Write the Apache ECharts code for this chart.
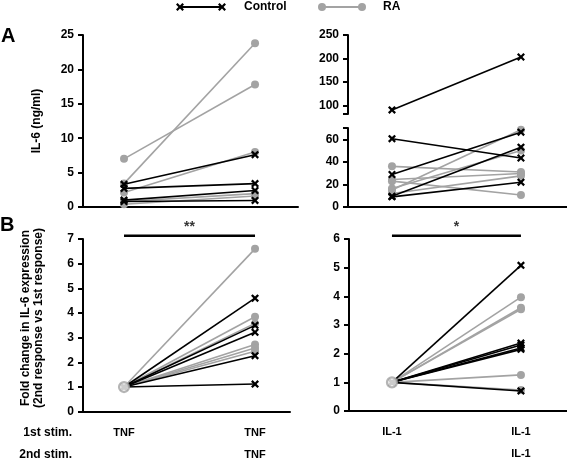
<!DOCTYPE html>
<html>
<head>
<meta charset="utf-8">
<script src="https://cdn.jsdelivr.net/npm/echarts@6/dist/echarts.min.js"></script>
<style>html,body{margin:0;padding:0;background:#fff}#c{width:567px;height:459px}</style>
</head>
<body>
<div id="c"></div>
<script>
// ---- data ----
// Panel A, TNF: [1st response, 2nd response] IL-6 ng/ml
const tnfControl = [[3.3, 7.6], [2.7, 3.4], [1.0, 2.4], [0.8, 0.95]];
const tnfRA = [[7.0, 17.8], [3.4, 23.8], [2.1, 8.0], [0.8, 1.95], [0.4, 1.6]];
// Panel A, IL-1 (broken axis)
const il1ControlHigh = [[90, 203]];
const il1Control = [[60.5, 43.4], [28.8, 66.3], [9.5, 53], [9, 22]];
const il1RA = [[36, 31], [24.4, 29.7], [22.9, 10.6], [16.4, 50], [15, 68.4], [12, 27.6]];
// Panel B, fold change (2nd vs 1st), baseline = 1
const foldBaseline = 1;
const foldTnfControl = [4.6, 3.5, 3.22, 2.27, 1.12];
const foldTnfRA = [6.6, 3.85, 3.58, 2.72, 2.58, 2.45];
const foldIl1Control = [5.08, 2.37, 2.3, 2.2, 2.15, 0.7];
const foldIl1RA = [3.97, 3.6, 3.55, 1.26, 0.73];
// ticks
const ticksTnfA = [0, 5, 10, 15, 20, 25];
const ticksIl1Upper = [100, 150, 200, 250];
const ticksIl1Lower = [0, 20, 40, 60];
const ticksTnfB = [0, 1, 2, 3, 4, 5, 6, 7];
const ticksIl1B = [0, 1, 2, 3, 4, 5, 6];
const stimTnf = ['TNF', 'TNF'];
const stimIl1 = ['IL-1', 'IL-1'];
const sigTnf = {level: 7.13, text: '**'};
const sigIl1 = {level: 6.115, text: '*'};

// ---- styles ----
const FONT = 'Liberation Sans, Arial, sans-serif';
const BLACK = '#000000';
const GRAY = '#a3a3a3';
const XMARK = 'path://M2,0 L5,3 L8,0 L10,2 L7,5 L10,8 L8,10 L5,7 L2,10 L0,8 L3,5 L0,2 Z';

const grids = [
  {left: 83, top: 35, width: 215, height: 172},   // 0 A TNF
  {left: 348, top: 35, width: 219, height: 79},   // 1 A IL-1 upper
  {left: 348, top: 128, width: 219, height: 79},  // 2 A IL-1 lower
  {left: 83, top: 239, width: 207, height: 172.7},// 3 B TNF
  {left: 349, top: 239, width: 218, height: 172}  // 4 B IL-1
].map(function (g) { g.outerBoundsMode = 'none'; g.containLabel = false; return g; });

function yAx(gi, min, max, ticks, tickExtra) {
  return {
    type: 'value', gridIndex: gi, min: min, max: max,
    axisLine: {show: true, onZero: false, lineStyle: {color: BLACK, width: 2}},
    axisTick: {show: true, inside: false, length: 5, lineStyle: {color: BLACK, width: 2},
      customValues: ticks.concat(tickExtra || [])},
    axisLabel: {show: true, color: BLACK, fontFamily: FONT, fontWeight: 'bold', fontSize: 12,
      margin: 9, customValues: ticks},
    splitLine: {show: false}
  };
}
function xAx(gi, min, max, showLine, labels) {
  const o = {
    type: 'value', gridIndex: gi, min: min, max: max,
    axisLine: {show: showLine, onZero: false, lineStyle: {color: BLACK, width: 2}},
    axisTick: {show: false},
    axisLabel: {show: false},
    splitLine: {show: false}
  };
  if (labels) {
    o.axisLabel = {
      show: true, customValues: [0, 1], margin: 10, color: BLACK,
      fontFamily: FONT, fontWeight: 'bold', fontSize: 11, lineHeight: 22,
      formatter: function (v) { return v < 0.5 ? labels[0] : labels[1] + '\n' + labels[1]; }
    };
  }
  return o;
}

const xAxes = [
  xAx(0, -0.313, 1.328, true),
  xAx(1, -0.341, 1.357, false),
  xAx(2, -0.341, 1.357, true),
  xAx(3, -0.313, 1.267, true, stimTnf),
  xAx(4, -0.333, 1.357, true, stimIl1)
];
const yAxes = [
  yAx(0, 0, 25, ticksTnfA),
  yAx(1, 81.4, 250, ticksIl1Upper, [81.4]),
  yAx(2, 0, 70, ticksIl1Lower, [70]),
  yAx(3, 0, 7, ticksTnfB),
  yAx(4, 0, 6, ticksIl1B)
];

const series = [];
function pairSeries(gi, pairs, color, isCtrl) {
  pairs.forEach(function (p) {
    series.push({
      type: 'line', xAxisIndex: gi, yAxisIndex: gi,
      data: [[0, p[0]], [1, p[1]]],
      lineStyle: {color: color, width: 1.6},
      itemStyle: {color: color},
      symbol: isCtrl ? XMARK : 'circle',
      symbolSize: 8,
      showSymbol: true, animation: false, z: isCtrl ? 3 : 2
    });
  });
}
function foldSeries(gi, vals, color, isCtrl) {
  pairSeries(gi, vals.map(function (v) { return [foldBaseline, v]; }), color, isCtrl);
}

pairSeries(0, tnfRA, GRAY, false);
pairSeries(0, tnfControl, BLACK, true);
pairSeries(1, il1ControlHigh, BLACK, true);
pairSeries(2, il1RA, GRAY, false);
pairSeries(2, il1Control, BLACK, true);
foldSeries(3, foldTnfRA, GRAY, false);
foldSeries(3, foldTnfControl, BLACK, true);
foldSeries(4, foldIl1Control, BLACK, true);
foldSeries(4, foldIl1RA, GRAY, false);

// hollow baseline markers
[3, 4].forEach(function (gi) {
  series.push({
    type: 'scatter', xAxisIndex: gi, yAxisIndex: gi, data: [[0, foldBaseline]],
    symbol: 'circle', symbolSize: 10,
    itemStyle: {color: '#ffffff', borderColor: GRAY, borderWidth: 2.2},
    z: 10, animation: false
  });
});

// significance bars
[[3, sigTnf], [4, sigIl1]].forEach(function (s) {
  const gi = s[0], sig = s[1];
  series.push({
    type: 'line', xAxisIndex: gi, yAxisIndex: gi, clip: false,
    data: [[0, sig.level], [1, sig.level]], symbol: 'none',
    lineStyle: {color: BLACK, width: 2.5}, animation: false, z: 5
  });
  series.push({
    type: 'scatter', xAxisIndex: gi, yAxisIndex: gi, clip: false,
    data: [[0.5, sig.level]], symbol: 'circle', symbolSize: 1,
    itemStyle: {color: 'rgba(0,0,0,0)'},
    label: {show: true, position: 'top', distance: 1, formatter: sig.text,
      color: BLACK, fontFamily: FONT, fontWeight: 'bold', fontSize: 14},
    animation: false, z: 5
  });
});

function txt(x, y, text, opts, rot) {
  const o = {type: 'text', x: x, y: y, style: Object.assign({
    text: text, fill: BLACK, font: 'bold 12px ' + FONT, textAlign: 'left', textVerticalAlign: 'middle'
  }, opts || {})};
  if (rot) o.rotation = rot;
  return o;
}
function xMarkPts(cx, cy, s) {
  const k = s / 10;
  const base = [[2,0],[5,3],[8,0],[10,2],[7,5],[10,8],[8,10],[5,7],[2,10],[0,8],[3,5],[0,2]];
  return base.map(function (p) { return [cx + (p[0] - 5) * k, cy + (p[1] - 5) * k]; });
}

const graphic = [
  // legend
  {type: 'line', shape: {x1: 180, y1: 7, x2: 222, y2: 7}, style: {stroke: BLACK, lineWidth: 2}},
  {type: 'polygon', shape: {points: xMarkPts(180, 7, 8)}, style: {fill: BLACK}},
  {type: 'polygon', shape: {points: xMarkPts(222, 7, 8)}, style: {fill: BLACK}},
  txt(244, 7, 'Control'),
  {type: 'line', shape: {x1: 322, y1: 7, x2: 362, y2: 7}, style: {stroke: GRAY, lineWidth: 2}},
  {type: 'circle', shape: {cx: 322, cy: 7, r: 4}, style: {fill: GRAY}},
  {type: 'circle', shape: {cx: 362, cy: 7, r: 4}, style: {fill: GRAY}},
  txt(383, 7, 'RA'),
  // panel letters
  txt(1, 36, 'A', {font: 'bold 20px ' + FONT}),
  txt(0, 225, 'B', {font: 'bold 20px ' + FONT}),
  // y axis titles
  txt(37, 121, 'IL-6 (ng/ml)', {textAlign: 'center'}, Math.PI / 2),
  txt(32, 318, 'Fold change in IL-6 expression\n(2nd response vs 1st response)', {textAlign: 'center', lineHeight: 13}, Math.PI / 2),
  // stim row labels
  txt(72, 433, '1st stim.', {textAlign: 'right'}),
  txt(72, 455, '2nd stim.', {textAlign: 'right'})
];

const chart = echarts.init(document.getElementById('c'), null, {renderer: 'canvas'});
chart.setOption({
  animation: false,
  backgroundColor: '#ffffff',
  grid: grids,
  xAxis: xAxes,
  yAxis: yAxes,
  series: series,
  graphic: graphic
});
</script>
</body>
</html>
